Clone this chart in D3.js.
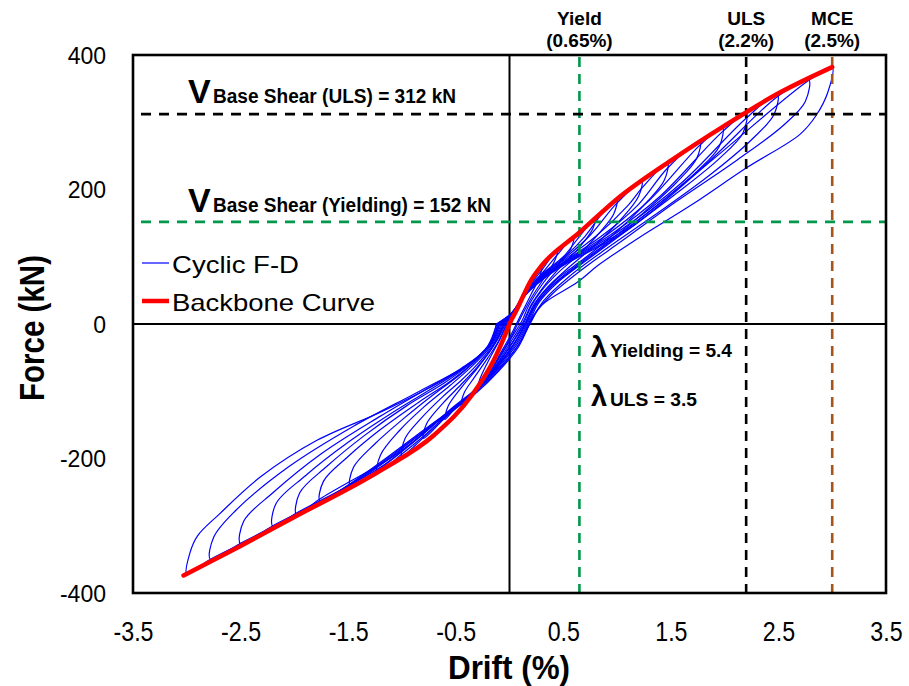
<!DOCTYPE html>
<html><head><meta charset="utf-8">
<script src="https://cdn.jsdelivr.net/npm/d3@7"></script>
<style>body{margin:0;background:#fff} text{font-family:"Liberation Sans",Arial,sans-serif}</style>
</head><body>
<svg id="c" width="909" height="686"></svg>
<script>
const xTicks = [-3.5,-2.5,-1.5,-0.5,0.5,1.5,2.5,3.5];
const yTicks = [-400,-200,0,200,400];

const backboneDrift = [-3.03,-2.5,-2.0,-1.2,-0.7,-0.35,-0.15,-0.03,0,0.07,0.2,0.3,0.65,1.0,1.5,2.0,2.5,3.0];
const backboneForce = [-374,-330,-287,-218,-165,-106,-55,-12,0,22,65,87,136,186,243,295,343,382];

const cycle1 = [[-0.02,0],[0.05,20],[0.15,50],[0.3,86],[0.28,70],[0.2,44],[0.1,12],[0.02,-14],[-0.1,-48],[-0.2,-78],[-0.3,-100],[-0.28,-84],[-0.2,-56],[-0.1,-26],[-0.02,0]];
const cycle2 = [[-0.03,0],[0.05,21],[0.15,49],[0.3,80],[0.45,112],[0.42,94],[0.32,68],[0.2,38],[0.1,8],[0.02,-18],[-0.1,-50],[-0.25,-88],[-0.35,-104],[-0.45,-121],[-0.42,-102],[-0.32,-78],[-0.2,-50],[-0.1,-25],[-0.03,0]];
const cycle3 = [[-0.04,0],[0.05,22],[0.15,48],[0.3,75],[0.45,104],[0.6,131],[0.57,112],[0.45,88],[0.3,58],[0.18,28],[0.12,6],[0.02,-20],[-0.1,-52],[-0.25,-87],[-0.4,-110],[-0.52,-128],[-0.6,-142],[-0.57,-122],[-0.45,-95],[-0.3,-66],[-0.18,-40],[-0.1,-20],[-0.04,0]];
const cycle4 = [[-0.05,0],[0.05,22],[0.15,48],[0.3,74],[0.5,100],[0.65,130],[0.8,158],[0.77,140],[0.65,114],[0.48,86],[0.32,56],[0.2,28],[0.13,4],[0.03,-22],[-0.1,-55],[-0.25,-88],[-0.45,-118],[-0.62,-143],[-0.8,-170],[-0.77,-148],[-0.62,-118],[-0.45,-90],[-0.3,-64],[-0.18,-40],[-0.1,-18],[-0.05,0]];
const cycle5 = [[-0.06,0],[0.05,22],[0.15,48],[0.3,73],[0.5,98],[0.7,130],[0.85,162],[1.0,186],[0.97,164],[0.85,138],[0.65,104],[0.45,76],[0.3,50],[0.2,26],[0.14,4],[0.04,-24],[-0.1,-57],[-0.25,-88],[-0.45,-117],[-0.65,-146],[-0.82,-172],[-1.0,-196],[-0.97,-170],[-0.82,-140],[-0.62,-108],[-0.45,-84],[-0.3,-60],[-0.18,-37],[-0.1,-17],[-0.06,0]];
const cycle6 = [[-0.07,0],[0.05,22],[0.15,47],[0.3,72],[0.5,96],[0.75,132],[1.0,180],[1.23,212],[1.2,190],[1.05,158],[0.8,118],[0.55,84],[0.35,54],[0.22,27],[0.15,3],[0.04,-25],[-0.1,-58],[-0.25,-89],[-0.5,-123],[-0.8,-167],[-1.02,-196],[-1.23,-222],[-1.2,-195],[-1.02,-158],[-0.8,-124],[-0.55,-91],[-0.35,-63],[-0.2,-38],[-0.11,-17],[-0.07,0]];
const cycle7 = [[-0.08,0],[0.05,22],[0.15,47],[0.3,71],[0.5,94],[0.8,130],[1.1,176],[1.23,202],[1.47,240],[1.44,214],[1.28,182],[1.0,138],[0.7,98],[0.45,68],[0.28,40],[0.2,18],[0.15,1],[0.05,-27],[-0.1,-60],[-0.28,-92],[-0.55,-127],[-0.85,-170],[-1.23,-218],[-1.48,-242],[-1.45,-213],[-1.25,-178],[-0.98,-140],[-0.7,-104],[-0.45,-74],[-0.25,-44],[-0.13,-20],[-0.08,0]];
const cycle8 = [[-0.09,0],[0.05,22],[0.15,46],[0.3,70],[0.5,92],[0.85,130],[1.2,178],[1.47,232],[1.77,272],[1.74,246],[1.55,210],[1.25,166],[0.9,120],[0.6,84],[0.38,55],[0.24,28],[0.16,2],[0.05,-28],[-0.1,-61],[-0.28,-93],[-0.55,-128],[-0.9,-176],[-1.48,-238],[-1.76,-264],[-1.73,-234],[-1.5,-197],[-1.2,-157],[-0.85,-117],[-0.55,-85],[-0.32,-55],[-0.16,-27],[-0.09,0]];
const cycle9 = [[-0.1,0],[0.05,21],[0.15,45],[0.3,69],[0.5,91],[0.9,132],[1.3,184],[1.77,266],[1.98,293],[1.95,264],[1.75,228],[1.4,180],[1.0,130],[0.65,88],[0.4,57],[0.25,29],[0.17,2],[0.06,-29],[-0.1,-62],[-0.28,-94],[-0.55,-129],[-1.0,-188],[-1.76,-260],[-1.98,-284],[-1.95,-251],[-1.7,-212],[-1.35,-166],[-0.95,-121],[-0.6,-87],[-0.35,-57],[-0.17,-28],[-0.1,0]];
const cycle10 = [[-0.1,0],[0.05,21],[0.15,45],[0.3,68],[0.5,90],[0.95,134],[1.4,190],[1.98,286],[2.2,313],[2.17,284],[1.95,246],[1.55,194],[1.1,140],[0.72,95],[0.45,62],[0.27,31],[0.18,2],[0.07,-30],[-0.1,-64],[-0.28,-95],[-0.6,-135],[-1.2,-213],[-1.98,-281],[-2.2,-301],[-2.17,-267],[-1.9,-226],[-1.5,-176],[-1.05,-128],[-0.65,-89],[-0.37,-59],[-0.18,-30],[-0.1,0]];
const cycle11 = [[-0.11,0],[0.05,20],[0.15,44],[0.3,67],[0.5,89],[1.0,136],[1.6,210],[2.2,306],[2.49,342],[2.46,312],[2.25,274],[1.85,220],[1.35,162],[0.9,112],[0.55,70],[0.32,35],[0.19,2],[0.08,-32],[-0.1,-66],[-0.3,-97],[-0.65,-141],[-1.4,-232],[-2.2,-300],[-2.5,-327],[-2.47,-293],[-2.2,-251],[-1.75,-193],[-1.2,-137],[-0.7,-90],[-0.38,-60],[-0.18,-31],[-0.11,0]];
const cycle12 = [[-0.12,0],[0.05,20],[0.15,44],[0.3,66],[0.5,88],[1.05,138],[1.8,234],[2.49,338],[2.78,364],[2.75,331],[2.55,296],[2.1,242],[1.55,182],[1.05,124],[0.7,84],[0.4,45],[0.22,12],[0.17,-5],[0.07,-34],[-0.1,-68],[-0.3,-99],[-0.75,-152],[-1.6,-250],[-2.5,-326],[-2.78,-350],[-2.75,-317],[-2.55,-278],[-2.05,-212],[-1.45,-152],[-0.85,-101],[-0.45,-66],[-0.2,-34],[-0.12,0]];
const cycle13 = [[-0.12,0],[0.05,20],[0.15,43],[0.3,65],[0.5,87],[1.1,140],[1.9,246],[2.78,362],[3.0,382],[2.96,345],[2.85,310],[2.7,282],[2.2,232],[1.7,178],[1.2,128],[0.83,88],[0.63,62],[0.3,28],[0.19,0],[0.08,-35],[-0.1,-70],[-0.3,-101],[-0.8,-160],[-1.7,-262],[-2.78,-350],[-3.0,-372],[-2.97,-340],[-2.9,-315],[-2.7,-283],[-2.32,-228],[-1.79,-173],[-1.17,-129],[-0.62,-84],[-0.37,-59],[-0.2,-32],[-0.12,0]];
const cycles = [cycle1,cycle2,cycle3,cycle4,cycle5,cycle6,cycle7,cycle8,cycle9,cycle10,cycle11,cycle12,cycle13];

const limitDrifts = [0.65, 2.2, 3.0];
const limitNames = ["Yield","ULS","MCE"];
const limitValues = ["(0.65%)","(2.2%)","(2.5%)"];
const shearForces = [312, 152];
const shearLabels = ["Base Shear (ULS) = 312 kN","Base Shear (Yielding) = 152 kN"];
const lambdaLabels = ["Yielding = 5.4","ULS = 3.5"];
const legendLabels = ["Cyclic F-D","Backbone Curve"];

const GREEN = "#00984A", BROWN = "#A5541A";
const svg = d3.select("#c");
const L = 133, R = 886, T = 55, B = 593;
const x = d3.scaleLinear().domain([-3.5,3.5]).range([L,R]);
const y = d3.scaleLinear().domain([-400,400]).range([B,T]);
const hyph = f => d => f(d).replace("\u2212","-");

svg.append("rect").attr("width",909).attr("height",686).attr("fill","#fff");
svg.append("defs").append("clipPath").attr("id","clip").append("rect")
  .attr("x",L).attr("y",T).attr("width",R-L).attr("height",B-T);

// zero axes
svg.append("line").attr("x1",x(0)).attr("x2",x(0)).attr("y1",T).attr("y2",B).attr("stroke","#000").attr("stroke-width",2);
svg.append("line").attr("x1",L).attr("x2",R).attr("y1",y(0)).attr("y2",y(0)).attr("stroke","#000").attr("stroke-width",2);

const line = d3.line().x(d=>x(d[0])).y(d=>y(d[1])).curve(d3.curveCatmullRom.alpha(0.5));
const plot = svg.append("g").attr("clip-path","url(#clip)");
plot.selectAll("path.cyc").data(cycles).join("path").attr("class","cyc")
  .attr("d",line).attr("fill","none").attr("stroke","#0000FF").attr("stroke-width",1.2);

// dashed reference lines
const vColors = [GREEN,"#000",BROWN];
plot.selectAll("line.v").data(limitDrifts).join("line").attr("class","v")
  .attr("x1",d=>x(d)).attr("x2",d=>x(d)).attr("y1",T+2).attr("y2",B)
  .attr("stroke",(d,i)=>vColors[i]).attr("stroke-width",2.6).attr("stroke-dasharray","10,7");
const hColors = ["#000",GREEN];
plot.selectAll("line.h").data(shearForces).join("line").attr("class","h")
  .attr("x1",L+8).attr("x2",R).attr("y1",d=>y(d)).attr("y2",d=>y(d))
  .attr("stroke",(d,i)=>hColors[i]).attr("stroke-width",2.8).attr("stroke-dasharray","10,8");

const bb = backboneDrift.map((d,i)=>[d,backboneForce[i]]);
plot.append("path").attr("d",d3.line().x(d=>x(d[0])).y(d=>y(d[1])).curve(d3.curveMonotoneX)(bb))
  .attr("fill","none").attr("stroke","#FF0000").attr("stroke-width",4.5).attr("stroke-linecap","round");

// frame
svg.append("rect").attr("x",L).attr("y",T).attr("width",R-L).attr("height",B-T)
  .attr("fill","none").attr("stroke","#000").attr("stroke-width",2.6);

// axes
const xa = svg.append("g").attr("transform",`translate(0,${B})`)
  .call(d3.axisBottom(x).tickValues(xTicks).tickSize(0).tickPadding(0).tickFormat(hyph(d3.format(".1f"))));
xa.select(".domain").remove();
xa.selectAll("text").attr("y",48).attr("dy",null).attr("font-size",27).attr("fill","#000")
  .attr("transform","scale(0.86,1)")
  .style("font-family","'Liberation Sans',Arial");
const ya = svg.append("g").attr("transform",`translate(${L},0)`)
  .call(d3.axisLeft(y).tickValues(yTicks).tickSize(0).tickPadding(27).tickFormat(hyph(d3.format("d"))));
ya.select(".domain").remove();
ya.selectAll("text").attr("font-size",23).attr("fill","#000").attr("dy","0.35em")
  .style("font-family","'Liberation Sans',Arial");

// axis titles
svg.append("text").attr("x",509).attr("y",679).attr("text-anchor","middle")
  .attr("font-size",33).attr("font-weight","bold").attr("textLength",122).attr("lengthAdjust","spacingAndGlyphs").text("Drift (%)");
svg.append("text").attr("transform","translate(44,328) rotate(-90) scale(0.82,1)").attr("text-anchor","middle")
  .attr("font-size",36).attr("font-weight","bold").text("Force (kN)");

// top labels
const tl = svg.append("g");
limitDrifts.forEach((d,i)=>{
  tl.append("text").attr("x",x(d)).attr("y",25).attr("text-anchor","middle").attr("font-size",19).attr("font-weight","bold").text(limitNames[i]);
  tl.append("text").attr("x",x(d)).attr("y",47).attr("text-anchor","middle").attr("font-size",19).attr("font-weight","bold").text(limitValues[i]);
});

// shear annotations
const shY = [103, 212], shW = [243, 278];
shearLabels.forEach((s,i)=>{
  svg.append("text").attr("x",188).attr("y",shY[i]).attr("font-size",34).attr("font-weight","bold").text("V");
  svg.append("text").attr("x",213).attr("y",shY[i]).attr("font-size",20).attr("font-weight","bold")
    .attr("textLength",shW[i]).attr("lengthAdjust","spacingAndGlyphs").text(s);
});

// lambda annotations
const lamY = [357, 406], lamW = [122, 87];
lambdaLabels.forEach((s,i)=>{
  svg.append("text").attr("x",591).attr("y",lamY[i]).attr("font-size",29).attr("font-weight","bold").text("λ");
  svg.append("text").attr("x",610).attr("y",lamY[i]).attr("font-size",18).attr("font-weight","bold")
    .attr("textLength",lamW[i]).attr("lengthAdjust","spacingAndGlyphs").text(s);
});

// legend
const lg = svg.append("g");
lg.append("line").attr("x1",142).attr("x2",169).attr("y1",263).attr("y2",263).attr("stroke","#0000FF").attr("stroke-width",1.2);
lg.append("line").attr("x1",142).attr("x2",169).attr("y1",301).attr("y2",301).attr("stroke","#FF0000").attr("stroke-width",4.5);
lg.append("text").attr("x",172).attr("y",273).attr("font-size",24).attr("textLength",127).attr("lengthAdjust","spacingAndGlyphs").text(legendLabels[0]);
lg.append("text").attr("x",172).attr("y",311).attr("font-size",24).attr("textLength",203).attr("lengthAdjust","spacingAndGlyphs").text(legendLabels[1]);
</script>
</body></html>
